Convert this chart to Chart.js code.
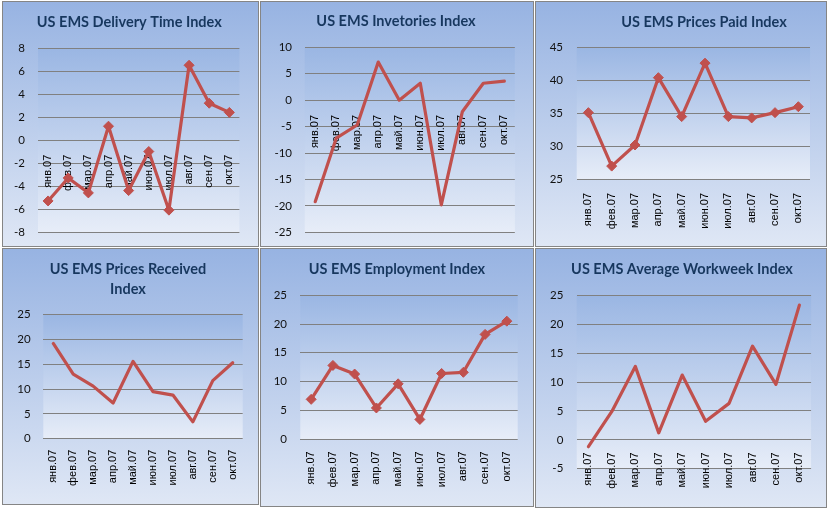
<!DOCTYPE html>
<html><head><meta charset="utf-8">
<script src="https://cdn.jsdelivr.net/npm/chart.js@4"></script>
<style>
html,body{margin:0;padding:0;background:#fff;}
body{width:829px;height:510px;position:relative;overflow:hidden;}
.panel{position:absolute;box-sizing:border-box;border:1px solid #858585;background:linear-gradient(to bottom,#97B3E2,#DFE7F5);}
.panel canvas{position:absolute;left:0;top:0;}
</style></head><body>
<script>
// ---------- data ----------
const months = ['янв.07','фев.07','мар.07','апр.07','май.07','июн.07','июл.07','авг.07','сен.07','окт.07'];
const deliveryTime   = [-5.3, -3.3, -4.6, 1.2, -4.4, -1.0, -6.1, 6.5, 3.2, 2.4];
const inventories    = [-19.2, -7.2, -4.7, 7.2, 0.0, 3.2, -19.8, -2.2, 3.2, 3.6];
const pricesPaid     = [35.1, 27.0, 30.2, 40.4, 34.5, 42.6, 34.5, 34.3, 35.1, 36.0];
const pricesReceived = [19.2, 13.0, 10.6, 7.2, 15.6, 9.5, 8.8, 3.4, 11.7, 15.3];
const employment     = [6.9, 12.8, 11.3, 5.4, 9.6, 3.4, 11.4, 11.6, 18.2, 20.5];
const workweek       = [-1.2, 4.9, 12.7, 1.2, 11.2, 3.2, 6.3, 16.2, 9.6, 23.3];

const chartTitles = [
  'US EMS Delivery Time Index',
  'US EMS Invetories Index',
  'US EMS Prices Paid Index',
  ['US EMS Prices Received', 'Index'],
  'US EMS Employment Index',
  'US EMS Average Workweek Index'
];
const seriesList = [deliveryTime, inventories, pricesPaid, pricesReceived, employment, workweek];
const yMins  = [-8, -25, 25, 0, 0, -5];
const yMaxs  = [8, 10, 45, 25, 25, 25];
const ySteps = [2, 5, 5, 5, 5, 5];
const withMarkers = [true, false, true, false, true, false];
const axisAtZero  = [true, true, false, false, false, true];

// ---------- layout (page pixels) ----------
const layoutSpec = [
  {box:[2,1,257,246],   plot:[38,243,48,232],          yLab:25,    tx:129.3, ty:22,    lab:14.7},
  {box:[260,1,274,246], plot:[304.7,519.7,47.3,232.3], yLab:292,   tx:396,   ty:21.7,  lab:14.8},
  {box:[535,1,292,246], plot:[576.7,811,47.3,179.3],   yLab:563,   tx:704,   ty:22.3,  lab:13.7},
  {box:[2,248,257,257], plot:[43.3,242.7,314.7,438.7], yLab:30.7,  tx:128,   ty:269.7, lab:11},
  {box:[260,248,274,259], plot:[300.3,519.7,295.3,439], yLab:287,  tx:397,   ty:269.7, lab:12.3},
  {box:[535,248,292,260], plot:[576.7,811.7,295.3,468.7], yLab:563.3, tx:682, ty:269.7, lab:12.7}
];

const LINE_COLOR = '#C0504D';
const TITLE_LH = 20;

const plotBg = {
  id: 'plotBg',
  beforeDraw(chart) {
    const {ctx, chartArea: a} = chart;
    const g = ctx.createLinearGradient(0, a.top, 0, a.bottom);
    g.addColorStop(0, '#9AB6E3');
    g.addColorStop(1, '#E7EDF8');
    ctx.save();
    ctx.fillStyle = g;
    ctx.fillRect(a.left, a.top, a.right - a.left, a.bottom - a.top);
    ctx.restore();
  }
};
const titleShift = {
  id: 'titleShift',
  afterLayout(chart, args, opts) {
    const t = chart.titleBlock;
    if (!t || opts.cx == null) return;
    const w = t.right - t.left;
    t.left = opts.cx - w / 2;
    t.right = t.left + w;
  }
};

layoutSpec.forEach((p, i) => {
  const [bx, by, bw, bh] = p.box;
  const div = document.createElement('div');
  div.className = 'panel';
  div.style.left = bx + 'px'; div.style.top = by + 'px';
  div.style.width = bw + 'px'; div.style.height = bh + 'px';
  document.body.appendChild(div);
  const ox = bx + 1, oy = by + 1, cw = bw - 2, ch = bh - 2;
  const canvas = document.createElement('canvas');
  canvas.width = cw; canvas.height = ch;
  canvas.style.width = cw + 'px'; canvas.style.height = ch + 'px';
  div.appendChild(canvas);

  const pl = p.plot[0] - ox, pr = p.plot[1] - ox, pt = p.plot[2] - oy, pb = p.plot[3] - oy;
  const title = chartTitles[i];
  const nLines = Array.isArray(title) ? title.length : 1;
  const tPadTop = (p.ty - oy) - TITLE_LH / 2;
  const tPadBottom = pt - tPadTop - nLines * TITLE_LH;
  const zero = axisAtZero[i];

  new Chart(canvas, {
    type: 'line',
    data: {
      labels: months,
      datasets: [{
        data: seriesList[i],
        borderColor: LINE_COLOR,
        borderWidth: 3.2,
        borderJoinStyle: 'round',
        borderCapStyle: 'round',
        tension: 0,
        fill: false,
        pointStyle: 'rectRot',
        pointRadius: withMarkers[i] ? 5 : 0,
        pointBackgroundColor: LINE_COLOR,
        pointBorderColor: LINE_COLOR,
        pointBorderWidth: 1
      }]
    },
    options: {
      responsive: false,
      animation: false,
      devicePixelRatio: 1,
      layout: {padding: {left: 0, right: cw - pr, top: 0, bottom: zero ? ch - pb : 0}},
      plugins: {
        legend: {display: false},
        tooltip: {enabled: false},
        title: {
          display: true,
          text: title,
          color: '#17375E',
          font: {family: 'Lato', size: 14.5, weight: 'bold', lineHeight: TITLE_LH + 'px'},
          padding: {top: tPadTop, bottom: tPadBottom}
        },
        titleShift: {cx: p.tx - ox}
      },
      scales: {
        x: {
          type: 'category',
          position: zero ? {y: 0} : 'bottom',
          offset: true,
          grid: {display: false, drawTicks: false},
          border: {display: false},
          ticks: {
            autoSkip: false, minRotation: 90, maxRotation: 90,
            padding: p.lab,
            color: '#000',
            font: {family: 'Liberation Sans', size: 11}
          },
          afterFit: s => { s.height = zero ? 0 : ch - pb; }
        },
        y: {
          min: yMins[i], max: yMaxs[i],
          grid: {color: '#808080', lineWidth: 1, drawTicks: false},
          border: {display: false},
          ticks: {
            stepSize: ySteps[i],
            padding: p.plot[0] - p.yLab,
            color: '#111',
            font: {family: 'Lato', size: 11.5}
          },
          afterFit: s => { s.width = pl; s.paddingTop = 0; s.paddingBottom = 0; }
        }
      }
    },
    plugins: [plotBg, titleShift]
  });
});
</script>
</body></html>
